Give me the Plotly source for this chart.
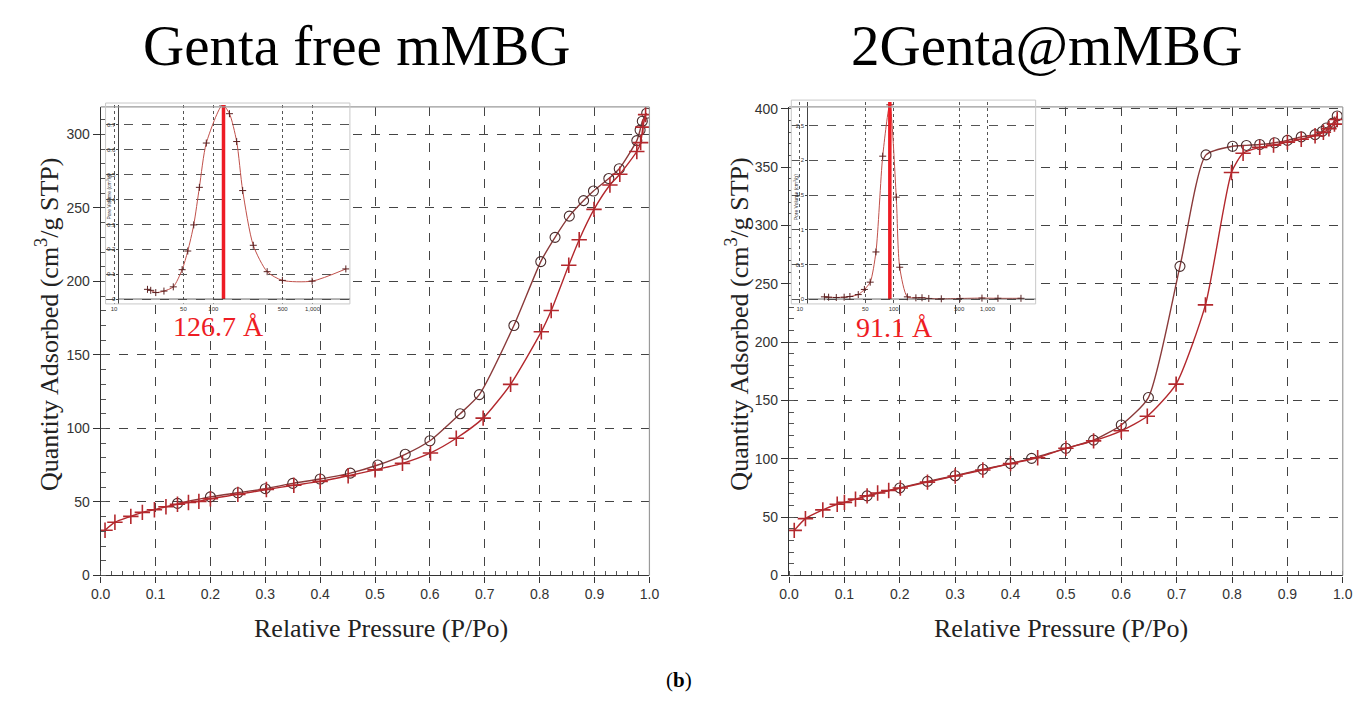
import plotly.graph_objects as go

W, H = 1357, 702

# ---------------- data ----------------
titles = ["Genta free mMBG", "2Genta@mMBG"]
x_title = "Relative Pressure (P/Po)"
y_title = "Quantity Adsorbed (cm<sup>3</sup>/g STP)"

# Genta free mMBG isotherm
free_ads_p = [0.008, 0.026, 0.055, 0.076, 0.098, 0.119, 0.14, 0.16, 0.179, 0.2, 0.25, 0.302, 0.352, 0.4,
              0.451, 0.5, 0.55, 0.601, 0.648, 0.697, 0.747, 0.803, 0.821, 0.853, 0.872, 0.899, 0.928,
              0.946, 0.977, 0.984, 0.988, 0.993]
free_ads_q = [30.7, 36.2, 40.2, 42.9, 44.7, 46.7, 48.4, 49.6, 50.4, 52.2, 55.1, 58.4, 61.3, 64.0,
              67.8, 71.8, 76.2, 83.3, 93.3, 107.0, 130.0, 165.8, 180.2, 211.0, 228.4, 249.0, 265.6,
              272.9, 288.4, 294.4, 305.0, 313.5]
free_des_p = [0.995, 0.987, 0.983, 0.977, 0.945, 0.926, 0.898, 0.880, 0.854, 0.828, 0.802, 0.753,
              0.69, 0.655, 0.6, 0.555, 0.505, 0.455, 0.4, 0.35, 0.3, 0.25, 0.2, 0.14]
free_des_q = [314.4, 309.0, 303.0, 295.8, 276.7, 270.0, 261.5, 255.0, 244.4, 230.0, 213.5, 170.0,
              123.0, 110.0, 91.6, 82.4, 75.1, 69.6, 65.6, 62.6, 59.0, 56.2, 53.4, 49.0]

# 2Genta@mMBG isotherm
genta_ads_p = [0.0094, 0.0296, 0.061, 0.087, 0.1, 0.12, 0.141, 0.16, 0.18, 0.201, 0.25, 0.3, 0.35, 0.4,
               0.449, 0.5, 0.55, 0.6, 0.647, 0.699, 0.752, 0.799, 0.82, 0.85, 0.875, 0.9, 0.925, 0.95,
               0.965, 0.975, 0.985, 0.99]
genta_ads_q = [38.6, 48.7, 56.2, 61.0, 62.6, 65.4, 68.2, 70.7, 72.8, 74.9, 80.0, 85.3, 90.4, 95.9,
               100.9, 109.0, 115.4, 124.0, 136.5, 164.0, 232.0, 345.5, 362.0, 367.0, 369.0, 371.5, 374.0,
               377.0, 380.0, 383.0, 387.0, 391.0]
genta_des_p = [0.99, 0.982, 0.97, 0.963, 0.95, 0.925, 0.9, 0.877, 0.85, 0.826, 0.801, 0.753, 0.706,
               0.649, 0.6, 0.55, 0.5, 0.438, 0.4, 0.35, 0.3, 0.25, 0.2, 0.141]
genta_des_q = [394.0, 387.8, 383.6, 380.7, 378.0, 376.0, 373.0, 371.0, 369.5, 368.7, 368.0, 360.6, 265.0,
               152.5, 129.0, 116.0, 109.0, 100.4, 95.9, 91.0, 85.5, 80.6, 75.0, 68.2]

# pore size distribution insets (pore diameter in Å, pore volume in cm3/g)
free_psd_d = [21.7, 23.4, 26.3, 31.8, 39.5, 48.5, 55.3, 63.5, 72.4, 85.0, 124.0, 145.5, 172.0, 197.7,
              252.8, 349.0, 497.0, 991.0, 2167.0]
free_psd_v = [0.039, 0.035, 0.026, 0.032, 0.049, 0.118, 0.193, 0.298, 0.449, 0.627, 0.78, 0.745, 0.633,
              0.436, 0.216, 0.110, 0.075, 0.072, 0.121]
genta_psd_d = [18.3, 20.3, 24.5, 29.7, 34.2, 42.0, 48.8, 56.3, 64.8, 76.5, 91.0, 106.7, 116.0, 140.0,
               172.7, 200.6, 237.0, 322.0, 509.0, 873.0, 1292.0, 2273.0]
genta_psd_v = [0.033, 0.028, 0.024, 0.028, 0.038, 0.066, 0.14, 0.245, 0.68, 2.06, 2.8, 1.47, 0.46,
               0.033, 0.019, 0.02, 0.01, 0.005, 0.01, 0.015, 0.012, 0.012]
peak_pore = [126.7, 91.1]
peak_labels = ["126.7 Å", "91.1 Å"]
inset_xticks = [10, 50, 100, 500, 1000]
inset_xtext = ["10", "50", "100", "500", "1,000"]
inset_ytitle = "Pore Volume (cm<sup>3</sup>/g)"

# ---------------- styling ----------------
ADS = "#b3282d"
DES_LINE = "#8a3a3a"
DES_MK = "#4a2c2c"
GRID = "#444444"

def px(x):
    return x / W

def py(y):
    return (H - y) / H

fig = go.Figure()

# main isotherms
for i, (ap, aq, dp, dq) in enumerate([(free_ads_p, free_ads_q, free_des_p, free_des_q),
                                        (genta_ads_p, genta_ads_q, genta_des_p, genta_des_q)]):
    xa = "x" if i == 0 else "x2"
    ya = "y" if i == 0 else "y2"
    fig.add_trace(go.Scatter(x=dp, y=dq, xaxis=xa, yaxis=ya, mode="lines+markers",
                             line=dict(color=DES_LINE, width=1.4, shape="spline", smoothing=0.6),
                             marker=dict(symbol="circle-open", size=10, color=DES_MK,
                                         line=dict(width=1.1, color=DES_MK)),
                             showlegend=False, hoverinfo="skip"))
    fig.add_trace(go.Scatter(x=ap, y=aq, xaxis=xa, yaxis=ya, mode="lines+markers",
                             line=dict(color=ADS, width=1.4, shape="spline", smoothing=0.6),
                             marker=dict(symbol="cross-thin", size=11, color=ADS,
                                         line=dict(width=1.6, color=ADS)),
                             showlegend=False, hoverinfo="skip"))

# insets
inset_ymax = [0.78, 2.84]
for i, (d, v) in enumerate([(free_psd_d, free_psd_v), (genta_psd_d, genta_psd_v)]):
    xa = "x3" if i == 0 else "x4"
    ya = "y3" if i == 0 else "y4"
    fig.add_trace(go.Scatter(x=d, y=v, xaxis=xa, yaxis=ya, mode="lines+markers",
                             line=dict(color="#c0504a", width=1, shape="spline", smoothing=0.7),
                             marker=dict(symbol="cross-thin", size=5, color="#5a2020",
                                         line=dict(width=1, color="#5a2020")),
                             showlegend=False, hoverinfo="skip"))
    fig.add_trace(go.Scatter(x=[peak_pore[i], peak_pore[i]], y=[0, inset_ymax[i]], xaxis=xa, yaxis=ya,
                             mode="lines", line=dict(color="#ee1c24", width=3.5),
                             showlegend=False, hoverinfo="skip"))

tickfont = dict(family="Liberation Sans, Arial", size=14, color="#333333")

def main_x(domain):
    return dict(domain=domain, range=[0, 1.0], tickvals=[i / 10 for i in range(11)],
                ticktext=[f"{i/10:.1f}" for i in range(11)], showgrid=True, gridcolor=GRID,
                griddash="dash", gridwidth=1.1, zeroline=False, showline=True, linecolor="#333333",
                linewidth=1.2, ticks="outside", ticklen=6, tickcolor="#333333", tickfont=tickfont,
                minor=dict(dtick=0.02, ticks="inside", ticklen=4, tickcolor="#555555", showgrid=False),
                fixedrange=True)

def main_y(domain, top, anchor):
    return dict(domain=domain, range=[0, top], dtick=50, showgrid=True, gridcolor=GRID,
                griddash="dash", gridwidth=1.1, zeroline=False, showline=True, linecolor="#333333",
                linewidth=1.2, ticks="outside", ticklen=7, tickcolor="#333333", tickfont=tickfont,
                minor=dict(dtick=10, ticks="inside", ticklen=5, tickcolor="#555555", showgrid=False),
                anchor=anchor, fixedrange=True)

ydom = [py(581), py(103)]
small = dict(family="Liberation Sans, Arial", size=6, color="#333333")

def inset_x(domain, rng, anchor):
    return dict(domain=domain, type="log", range=rng, tickvals=inset_xticks, ticktext=inset_xtext,
                showgrid=True, gridcolor="#555555", griddash="dot", gridwidth=0.8, zeroline=False,
                showline=False, ticks="", tickfont=small, anchor=anchor, fixedrange=True)

def inset_y(domain, rng, dtick, xpos):
    return dict(domain=domain, range=rng, dtick=dtick, tick0=0, showgrid=True, gridcolor="#555555",
                griddash="dash", gridwidth=0.8, zeroline=False, showline=True, linecolor="#444444",
                linewidth=0.8, ticks="outside", ticklen=2, tickcolor="#444444", tickfont=small,
                anchor="free", position=xpos, fixedrange=True)

fig.update_layout(
    width=W, height=H, autosize=False,
    margin=dict(l=0, r=0, t=0, b=0),
    paper_bgcolor="white", plot_bgcolor="white",
    xaxis=main_x([px(92), px(649)]),
    yaxis=main_y(ydom, 318.7, "x"),
    xaxis2=main_x([px(790.7), px(1352.7)]),
    yaxis2=main_y(ydom, 401.7, "x2"),
    xaxis3=inset_x([px(97), px(345)], [0.914, 3.377], "y3"),
    yaxis3=inset_y([py(304), py(101)], [-0.0197, 0.78], 0.1, px(110)),
    xaxis4=inset_x([px(793), px(1041)], [0.91, 3.513], "y4"),
    yaxis4=inset_y([py(304), py(98)], [-0.069, 2.84], 0.5, px(809)),
)

shapes = []
# grey top/right frame on main plots
for xa, ya in [("x", "y"), ("x2", "y2")]:
    shapes.append(dict(type="line", xref=f"{xa} domain", yref=f"{ya} domain", x0=0, x1=1, y0=1, y1=1,
                       line=dict(color="#9a9a9a", width=1.2), layer="above"))
    shapes.append(dict(type="line", xref=f"{xa} domain", yref=f"{ya} domain", x0=1, x1=1, y0=0, y1=1,
                       line=dict(color="#9a9a9a", width=1.2), layer="above"))
# inset borders and x-axis lines
for x0, x1, y0, y1, ax0 in [(97, 345, 99, 304, 110), (793, 1041, 96, 304, 809)]:
    shapes.append(dict(type="rect", xref="paper", yref="paper", x0=px(x0), x1=px(x1), y0=py(y1),
                       y1=py(y0), line=dict(color="#c8c8c8", width=1), fillcolor="rgba(0,0,0,0)",
                       layer="above"))
    shapes.append(dict(type="line", xref="paper", yref="paper", x0=px(ax0), x1=px(x1), y0=py(299),
                       y1=py(299), line=dict(color="#444444", width=0.8), layer="above"))
fig.update_layout(shapes=shapes)

serif = "Liberation Serif, Times New Roman, serif"
ann = []
for cx, t in zip([352, 1052], titles):
    ann.append(dict(text=t, x=px(cx), y=py(40), xref="paper", yref="paper", showarrow=False,
                    font=dict(family=serif, size=57, color="black"), xanchor="center", yanchor="middle"))
for cx in [377, 1067]:
    ann.append(dict(text=x_title, x=px(cx), y=py(635), xref="paper", yref="paper", showarrow=False,
                    font=dict(family=serif, size=26, color="#222222"), xanchor="center", yanchor="middle"))
for cx in [38, 738]:
    ann.append(dict(text=y_title, x=px(cx), y=py(325), xref="paper", yref="paper", showarrow=False,
                    textangle=-90, font=dict(family=serif, size=26, color="#222222"),
                    xanchor="center", yanchor="middle"))
for (cx, cy), t in zip([(212, 327), (898, 328)], peak_labels):
    ann.append(dict(text=t, x=px(cx), y=py(cy), xref="paper", yref="paper", showarrow=False,
                    font=dict(family=serif, size=28, color="#ee1c24"), xanchor="center", yanchor="middle"))
for cx in [101, 798]:
    ann.append(dict(text=inset_ytitle, x=px(cx), y=py(195), xref="paper", yref="paper", showarrow=False,
                    textangle=-90, font=dict(family="Liberation Sans, Arial", size=5, color="#333333"),
                    xanchor="center", yanchor="middle"))
ann.append(dict(text="(<b>b</b>)", x=px(679), y=py(688), xref="paper", yref="paper", showarrow=False,
                font=dict(family=serif, size=21, color="black"), xanchor="center", yanchor="middle"))
fig.update_layout(annotations=ann)

fig.write_html("out.html", config={"displayModeBar": False})

# remove default page margin so the figure sits at the window origin
with open("out.html", "r", encoding="utf-8") as f:
    html = f.read()
html = html.replace("<head>", "<head><style>html,body{margin:0;padding:0;overflow:hidden;}</style>", 1)
with open("out.html", "w", encoding="utf-8") as f:
    f.write(html)
